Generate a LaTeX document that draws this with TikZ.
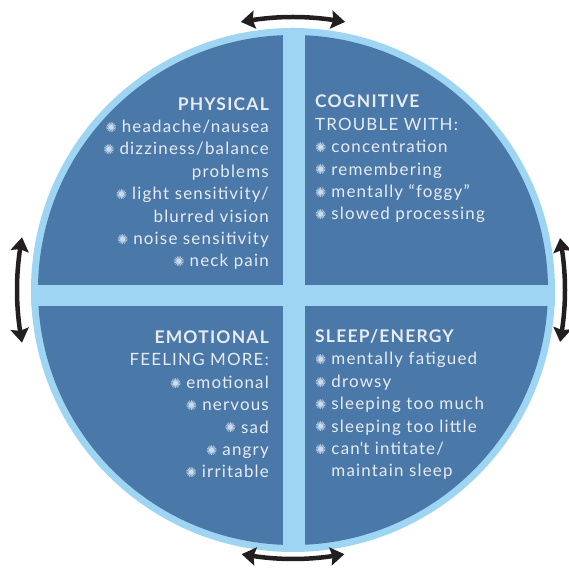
\documentclass[tikz,border=0pt]{standalone}
\usepackage{fontspec}
\setmainfont[LetterSpace=7]{Lato}
\newfontfamily\symfont{DejaVu Sans}
\usetikzlibrary{arrows.meta,bending}
\definecolor{ringblue}{RGB}{157,213,242}
\definecolor{quadblue}{RGB}{74,120,168}
\definecolor{txtc}{RGB}{232,236,241}
\definecolor{burstc}{RGB}{205,220,236}
\definecolor{arrowc}{RGB}{35,31,32}
\newcommand\bul{{\symfont\fontsize{13.5}{13.5}\selectfont\color{burstc}\raisebox{0.3bp}{✺}}\hspace{5bp}}
\newcommand\hd[1]{{\fontsize{17.5}{22.5}\selectfont\bfseries #1}}
\begin{document}
\begin{tikzpicture}[x=1bp,y=1bp,
	dblarrow/.style={arrowc,line width=4.5bp,
		{Stealth[length=14bp,width=18bp,inset=2bp,bend]}-{Stealth[length=14bp,width=18bp,inset=2bp,bend]}},
	quadtext/.style={txtc,inner sep=0pt,font=\fontsize{17}{22.5}\selectfont}]
	\useasboundingbox (0,0) rectangle (569,568);
	\coordinate (C) at (293,278);
	% disc and cross
	\fill[ringblue] (C) circle (262);
	\fill[quadblue] (C) circle (255);
	\begin{scope}
		\clip (C) circle (262);
		\fill[ringblue] (283,0) rectangle (305,568);
		\fill[ringblue] (0,262) rectangle (569,283);
	\end{scope}
	% arrows round the disc
	\draw[dblarrow] ([shift={(79:273)}]C) arc (79:101:273);
	\draw[dblarrow] ([shift={(259:269)}]C) arc (259:281:269);
	\draw[dblarrow] ([shift={(169:276)}]C) arc (169:191:276);
	\draw[dblarrow] ([shift={(-11:272)}]C) arc (-11:11:272);
	% quadrant texts (base = last line)
	\node[quadtext,align=right,anchor=base east] (physical) at (269,301)
		{\hd{PHYSICAL}\\
		\bul headache/nausea\\
		\bul dizziness/balance\\
		problems\\
		\bul light sensitivity/\\
		blurred vision\\
		\bul noise sensitivity\\
		\bul neck pain};
	\node[quadtext,align=left,anchor=base west] (cognitive) at (315,348)
		{\hd{COGNITIVE}\\
		TROUBLE WITH:\\
		\bul concentration\\
		\bul remembering\\
		\bul mentally “foggy”\\
		\bul slowed processing};
	\node[quadtext,align=right,anchor=base east] (emotional) at (269,90)
		{\hd{EMOTIONAL}\\
		FEELING MORE:\\
		\bul emotional\\
		\bul nervous\\
		\bul sad\\
		\bul angry\\
		\bul irritable};
	\node[quadtext,align=left,anchor=base west] (sleep) at (315,91)
		{\hd{SLEEP/ENERGY}\\
		\bul mentally fatigued\\
		\bul drowsy\\
		\bul sleeping too much\\
		\bul sleeping too little\\
		\bul can\textquotesingle t intitate/\\
		\phantom{\bul}maintain sleep};
\end{tikzpicture}
\end{document}
